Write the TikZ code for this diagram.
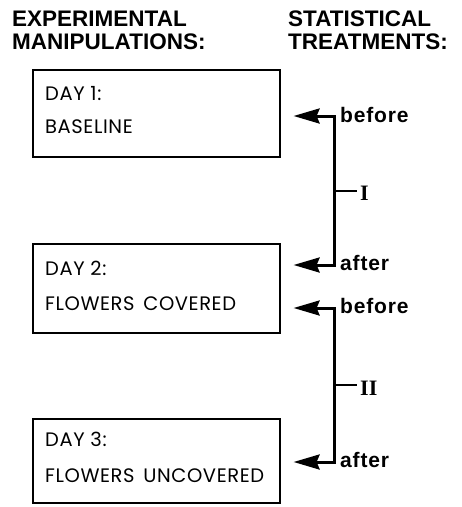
\documentclass[tikz,border=0pt]{standalone}
\usepackage{fontspec}
\setmainfont{Liberation Sans}
\newfontfamily\hdfont{Liberation Sans}
\newfontfamily\lblfont[LetterSpace=4]{Liberation Sans}
\newfontfamily\boxfont[LetterSpace=3]{Poppins}
\newfontfamily\romfont{Liberation Serif}
\usetikzlibrary{arrows.meta}
\begin{document}
\begin{tikzpicture}[x=1pt,y=-1pt,
  hdr/.style={anchor=base west, inner sep=0, font=\hdfont\bfseries\fontsize{22.5}{22.5}\selectfont},
  daybox/.style={draw, line width=1.2pt, minimum width=247pt, inner sep=0},
  boxtxt/.style={anchor=base west, inner sep=0, font=\boxfont\fontsize{19.5}{19.5}\selectfont},
  lbl/.style={anchor=base west, inner sep=0, font=\lblfont\bfseries\fontsize{21}{21}\selectfont},
  rom/.style={anchor=base west, inner sep=0, font=\romfont\bfseries\fontsize{22}{22}\selectfont},
  conn/.style={line width=3pt},
  arr/.style={conn, -{Stealth[length=26pt,width=15pt,inset=3pt]}, shorten >=13pt},
  tick/.style={line width=2pt, shorten >=3pt},
]
\useasboundingbox (0,0) rectangle (462,507);

% headers
\node[hdr] (h1) at (12,26) {EXPERIMENTAL};
\node[hdr] (h2) at (12,49) {MANIPULATIONS:};
\node[hdr] (h3) at (288,26) {STATISTICAL};
\node[hdr] (h4) at (288,49) {TREATMENTS:};

% boxes
\node[daybox, minimum height=87pt] (box1) at (156.5,113.5) {};
\node[daybox, minimum height=89pt] (box2) at (156.5,288.5) {};
\node[daybox, minimum height=84pt] (box3) at (156.5,461) {};

\node[boxtxt] (d1) at (45,100) {DAY 1:};
\node[boxtxt] (t1) at (45,133) {BASELINE};
\node[boxtxt] (d2) at (45,275) {DAY 2:};
\node[boxtxt] (t2) at (45,310) {FLOWERS\hspace{0.45em}COVERED};
\node[boxtxt] (d3) at (45,446) {DAY 3:};
\node[boxtxt] (t3) at (45,482) {FLOWERS\hspace{0.45em}UNCOVERED};

% right column labels
\node[lbl] (bef1) at (340,122) {before};
\node[lbl] (aft1) at (340,270) {after};
\node[lbl] (bef2) at (340,313) {before};
\node[lbl] (aft2) at (340,467) {after};
\node[rom] (r1) at (360,200) {I};
\node[rom] (r2) at (360,395) {II};

% connector points
\coordinate (b1) at (334,116);
\coordinate (a1) at (334,265);
\coordinate (m1) at (334,191);
\coordinate (b2) at (334,308);
\coordinate (a2) at (334,462);
\coordinate (m2) at (334,385);

\draw[arr] (m1) -- (b1) -- (b1 -| box1.east);
\draw[arr] (m1) -- (a1) -- (a1 -| box2.east);
\draw[tick] (m1) -- (m1 -| r1.west);
\draw[arr] (m2) -- (b2) -- (b2 -| box2.east);
\draw[arr] (m2) -- (a2) -- (a2 -| box3.east);
\draw[tick] (m2) -- (m2 -| r2.west);
\end{tikzpicture}
\end{document}
